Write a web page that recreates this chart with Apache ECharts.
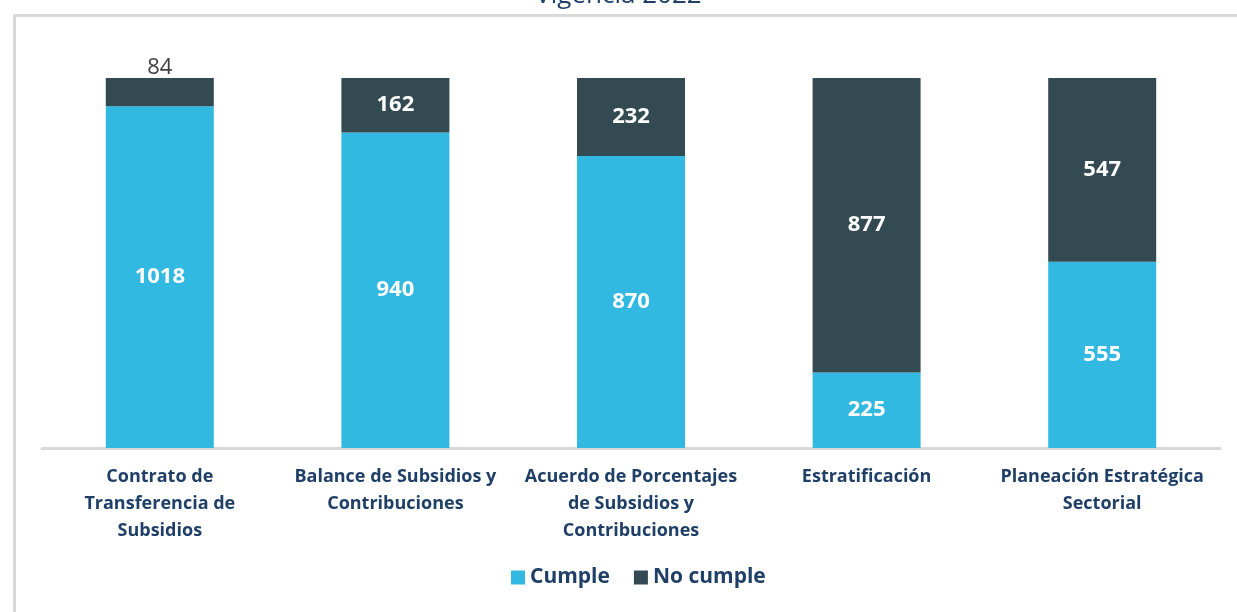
<!DOCTYPE html>
<html>
<head>
<meta charset="utf-8">
<script src="https://cdn.jsdelivr.net/npm/echarts@6/dist/echarts.min.js"></script>
<style>
  html, body { margin: 0; padding: 0; background: #fff; }
  #main { width: 1237px; height: 612px; }
</style>
</head>
<body>
<div id="main"></div>
<script>
var categories = [
    'Contrato de\nTransferencia de\nSubsidios',
    'Balance de Subsidios y\nContribuciones',
    'Acuerdo de Porcentajes\nde Subsidios y\nContribuciones',
    'Estratificación',
    'Planeación Estratégica\nSectorial'
];
var cumple = [1018, 940, 870, 225, 555];
var noCumple = [84, 162, 232, 877, 547];

var myChart = echarts.init(document.getElementById('main'));

var navy = '#1F3F66';
var font = 'Open Sans';

var option = {
    title: {
        text: 'Vigencia 2022',
        left: 'center',
        top: -22,
        textStyle: {
            color: navy,
            fontFamily: font,
            fontWeight: 'normal',
            fontSize: 26
        }
    },
    graphic: [{
        type: 'rect',
        left: 12,
        top: 13,
        shape: { width: 1300, height: 700 },
        style: { fill: 'none', stroke: '#d9d9d9', lineWidth: 3 },
        silent: true
    }],
    legend: {
        data: ['Cumple', 'No cumple'],
        bottom: 19,
        left: 506,
        itemWidth: 14,
        itemHeight: 14,
        itemGap: 24,
        icon: 'rect',
        textStyle: {
            color: navy,
            fontFamily: font,
            fontWeight: 'bold',
            fontSize: 21
        }
    },
    grid: {
        left: 42,
        right: 17,
        top: 78,
        bottom: 164
    },
    xAxis: {
        type: 'category',
        data: categories,
        axisLine: { lineStyle: { color: '#d9d9d9', width: 3 } },
        axisTick: { show: false },
        axisLabel: {
            interval: 0,
            margin: 15,
            color: navy,
            fontFamily: font,
            fontWeight: 'bold',
            fontSize: 18,
            lineHeight: 27
        }
    },
    yAxis: {
        type: 'value',
        min: 0,
        max: 1102,
        show: false,
        splitLine: { show: false }
    },
    series: [{
        name: 'Cumple',
        type: 'bar',
        stack: 'total',
        barWidth: 108,
        itemStyle: { color: '#32B9E1' },
        label: {
            show: true,
            position: 'inside',
            color: '#fff',
            fontFamily: font,
            fontWeight: 'bold',
            fontSize: 22
        },
        data: cumple
    }, {
        name: 'No cumple',
        type: 'bar',
        stack: 'total',
        barWidth: 108,
        itemStyle: { color: '#344A53' },
        label: {
            show: true,
            position: 'inside',
            color: '#fff',
            fontFamily: font,
            fontWeight: 'bold',
            fontSize: 22
        },
        data: noCumple.map(function (v) {
            // small segments get their label above the bar
            if (v < 120) {
                return {
                    value: v,
                    label: {
                        position: 'top',
                        distance: -1,
                        color: '#404040',
                        fontWeight: 500,
                        fontSize: 22
                    }
                };
            }
            return v;
        })
    }]
};

myChart.setOption(option);
</script>
</body>
</html>
